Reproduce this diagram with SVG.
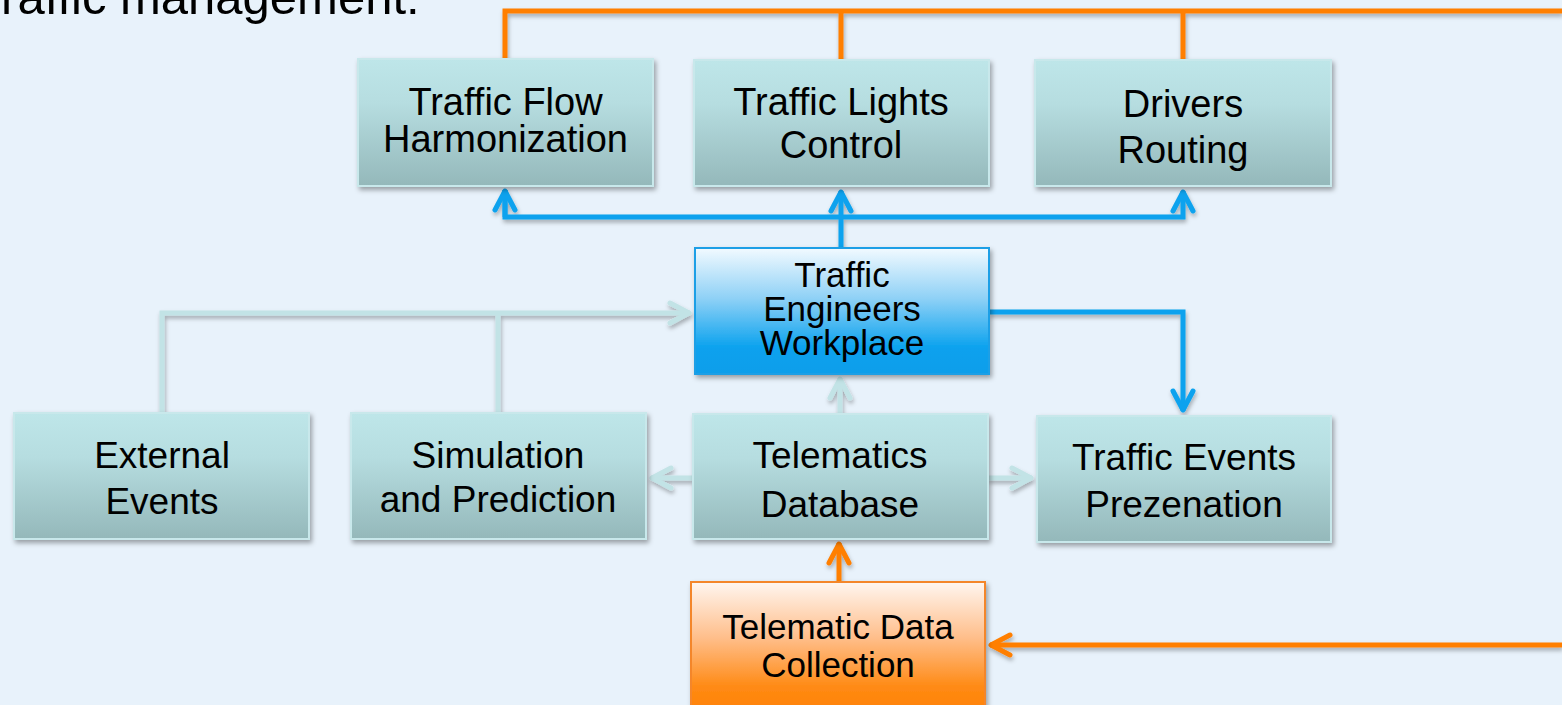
<svg xmlns="http://www.w3.org/2000/svg" width="1562" height="705" viewBox="0 0 1562 705">
<defs>
<linearGradient id="gTeal" x1="0" y1="0" x2="0" y2="1">
<stop offset="0" stop-color="#BEE6E9"/>
<stop offset="0.35" stop-color="#B6DDE0"/>
<stop offset="1" stop-color="#94B8BA"/>
</linearGradient>
<linearGradient id="gBlue" x1="0" y1="0" x2="0" y2="1">
<stop offset="0" stop-color="#F2FAFF"/>
<stop offset="0.4" stop-color="#8FD1F6"/>
<stop offset="0.8" stop-color="#08A1EE"/>
<stop offset="1" stop-color="#0A9EEA"/>
</linearGradient>
<linearGradient id="gOrange" x1="0" y1="0" x2="0" y2="1">
<stop offset="0" stop-color="#FFF6F0"/>
<stop offset="0.4" stop-color="#FFBE8A"/>
<stop offset="0.75" stop-color="#FF8A14"/>
<stop offset="1" stop-color="#FF7F00"/>
</linearGradient>
<filter id="sh" x="-10%" y="-10%" width="130%" height="140%">
<feDropShadow dx="2" dy="3" stdDeviation="2.5" flood-color="#000" flood-opacity="0.35"/>
</filter>
<filter id="lsh" x="-5%" y="-50%" width="110%" height="200%">
<feDropShadow dx="1" dy="3" stdDeviation="2" flood-color="#000" flood-opacity="0.3"/>
</filter>
<marker id="aBlue" viewBox="-24 -14 28 28" refX="1" refY="0" markerWidth="28" markerHeight="28" markerUnits="userSpaceOnUse" orient="auto">
<path d="M-19,-10 L0,0 L-19,10" fill="none" stroke="#0AA2EE" stroke-width="5" stroke-linecap="round" stroke-linejoin="round"/>
</marker>
<marker id="aOrange" viewBox="-24 -14 28 28" refX="1" refY="0" markerWidth="28" markerHeight="28" markerUnits="userSpaceOnUse" orient="auto">
<path d="M-19,-10 L0,0 L-19,10" fill="none" stroke="#FF7F00" stroke-width="5" stroke-linecap="round" stroke-linejoin="round"/>
</marker>
<marker id="aTeal" viewBox="-24 -14 28 28" refX="1" refY="0" markerWidth="28" markerHeight="28" markerUnits="userSpaceOnUse" orient="auto">
<path d="M-19,-10 L0,0 L-19,10" fill="none" stroke="#C2E3E6" stroke-width="5" stroke-linecap="round" stroke-linejoin="round"/>
</marker>
</defs>
<style>
.box{filter:url(#sh);stroke-width:2}
.teal{fill:url(#gTeal);stroke:#C8E8EB}
.blue{fill:url(#gBlue);stroke:#1C9FE6}
.orange{fill:url(#gOrange);stroke:#F4862A}
.t{font-family:"Liberation Sans",Arial,sans-serif;fill:#000;text-anchor:middle}
.ln{fill:none;stroke-width:5;stroke-linejoin:miter}
.lb{stroke:#0AA2EE}
.lo{stroke:#FF7F00}
.lt{stroke:#C2E3E6}
</style>
<rect width="1562" height="705" fill="#E8F2FB"/>
<text x="-27" y="14" font-family="Liberation Sans, Arial, sans-serif" font-size="49" fill="#000">Traffic management:</text>

<g id="connectors">
<g filter="url(#lsh)">
<path class="ln lo" d="M505,60 V11 H1562 M841,11 V60 M1183,11 V60"/>
<path class="ln lo" d="M1562,645 H990" marker-end="url(#aOrange)"/>
<path class="ln lo" d="M839,582 V543" marker-end="url(#aOrange)"/>
<path class="ln lb" d="M841,248 V191" marker-end="url(#aBlue)"/>
<path class="ln lb" d="M505,190 V217 H1183 V191" marker-end="url(#aBlue)"/>
<path class="ln lb" d="M505,217 V190" marker-end="url(#aBlue)"/>
<path class="ln lb" d="M989,312 H1183 V411" marker-end="url(#aBlue)"/>
<path class="ln lt" d="M162,413 V313 H690" marker-end="url(#aTeal)"/>
<path class="ln lt" d="M498,413 V313"/>
<path class="ln lt" d="M693,478 H651" marker-end="url(#aTeal)"/>
<path class="ln lt" d="M988,478 H1032" marker-end="url(#aTeal)"/>
<path class="ln lt" d="M840,414 V378" marker-end="url(#aTeal)"/>
</g>
</g>

<g id="n-tfh">
<rect class="box teal" x="358" y="59" width="295" height="127"/>
<text class="t" font-size="38" x="505.5" y="115">Traffic Flow</text>
<text class="t" font-size="38" x="505.5" y="152">Harmonization</text>
</g>
<g id="n-tlc">
<rect class="box teal" x="694" y="60" width="295" height="126"/>
<text class="t" font-size="38" x="841" y="115">Traffic Lights</text>
<text class="t" font-size="38" x="841" y="158">Control</text>
</g>
<g id="n-dr">
<rect class="box teal" x="1035" y="60" width="296" height="126"/>
<text class="t" font-size="38" x="1183" y="117">Drivers</text>
<text class="t" font-size="38" x="1183" y="163">Routing</text>
</g>
<g id="n-tew">
<rect class="box blue" x="695" y="248" width="294" height="126"/>
<text class="t" font-size="35" x="842" y="287">Traffic</text>
<text class="t" font-size="35" x="842" y="321">Engineers</text>
<text class="t" font-size="35" x="842" y="355">Workplace</text>
</g>
<g id="n-ee">
<rect class="box teal" x="14" y="413" width="295" height="126"/>
<text class="t" font-size="37" x="162" y="468">External</text>
<text class="t" font-size="37" x="162" y="514">Events</text>
</g>
<g id="n-sp">
<rect class="box teal" x="351" y="413" width="295" height="126"/>
<text class="t" font-size="37" x="498" y="468">Simulation</text>
<text class="t" font-size="37" x="498" y="512">and Prediction</text>
</g>
<g id="n-td">
<rect class="box teal" x="693" y="414" width="295" height="125"/>
<text class="t" font-size="37" x="840" y="468">Telematics</text>
<text class="t" font-size="37" x="840" y="517">Database</text>
</g>
<g id="n-tep">
<rect class="box teal" x="1037" y="416" width="294" height="126"/>
<text class="t" font-size="37" x="1184" y="470">Traffic Events</text>
<text class="t" font-size="37" x="1184" y="517">Prezenation</text>
</g>
<g id="n-tdc">
<rect class="box orange" x="691" y="582" width="294" height="140"/>
<text class="t" font-size="35" x="838" y="639">Telematic Data</text>
<text class="t" font-size="35" x="838" y="677">Collection</text>
</g>
</svg>
